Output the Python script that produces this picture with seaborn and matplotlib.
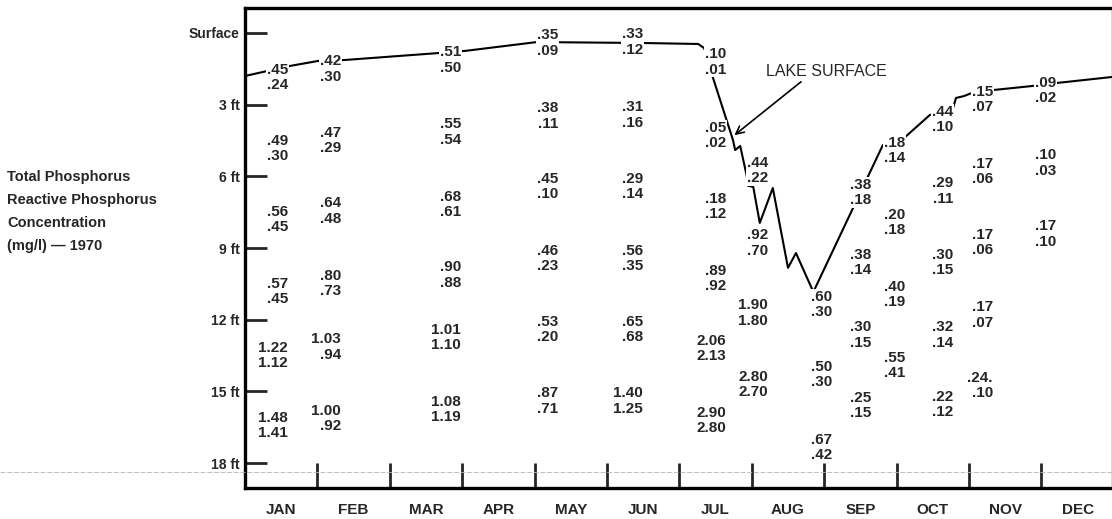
import matplotlib
matplotlib.use("Agg")
import matplotlib.pyplot as plt
from matplotlib.lines import Line2D
import seaborn as sns

sns.set_style("white")
plt.rcParams["font.family"] = ["Liberation Sans", "DejaVu Sans"]

# Month names along the bottom
months = ["JAN", "FEB", "MAR", "APR", "MAY", "JUN",
          "JUL", "AUG", "SEP", "OCT", "NOV", "DEC"]

# Depth axis (feet below surface)
depth_ticks = [0, 3, 6, 9, 12, 15, 18]
depth_labels = ["Surface", "3 ft", "6 ft", "9 ft", "12 ft", "15 ft", "18 ft"]

# Lake surface level through the year (month position, depth in ft)
surface_month = [0.00, 0.62, 1.01, 1.38, 2.67, 3.04, 4.03, 5.52, 6.26, 6.34,
                 6.38, 6.46, 6.74, 6.77, 6.84, 6.93, 6.95, 7.02, 7.11, 7.29,
                 7.50, 7.61, 7.85, 8.81, 9.12, 9.46, 9.78, 9.82, 9.93, 10.04,
                 10.36, 10.87, 11.22, 11.98]
surface_depth = [1.80, 1.38, 1.17, 1.13, 0.84, 0.75, 0.38, 0.42, 0.46, 0.63,
                 0.92, 1.84, 4.48, 4.90, 4.73, 5.98, 6.40, 6.44, 7.95, 6.49,
                 9.83, 9.21, 10.84, 4.69, 4.35, 3.43, 3.14, 2.72, 2.64, 2.51,
                 2.38, 2.22, 2.09, 1.84]

# Sampling dates (month position) and sample depths (ft)
sample_month = [0.594, 1.326, 2.983, 4.323, 5.497, 6.644, 7.224,
                8.108, 8.646, 9.116, 9.779, 10.331, 11.20]
sample_depth = [
    [1.86, 4.85, 7.82, 10.82, 13.49, 16.44],
    [1.51, 4.50, 7.45, 10.48, 13.14, 16.13],
    [1.13, 4.14, 7.18, 10.13, 12.76, 15.75],
    [0.42, 3.47, 6.44, 9.44, 12.41, 15.40],
    [0.38, 3.43, 6.44, 9.44, 12.41, 15.40],
    [1.21, 4.29, 7.26, 10.29, 13.22, 16.23],
    [5.77, 8.79, 11.72, 14.71],
    [11.38, 14.31, 17.36],
    [6.69, 9.62, 12.64, 15.59],
    [4.92, 7.93, 10.94, 13.91],
    [3.62, 6.61, 9.62, 12.64, 15.56],
    [2.78, 5.79, 8.77, 11.80, 14.75],
    [2.41, 5.44, 8.41],
]

# Total phosphorus (mg/l)
total_p = [
    [".45", ".49", ".56", ".57", "1.22", "1.48"],
    [".42", ".47", ".64", ".80", "1.03", "1.00"],
    [".51", ".55", ".68", ".90", "1.01", "1.08"],
    [".35", ".38", ".45", ".46", ".53", ".87"],
    [".33", ".31", ".29", ".56", ".65", "1.40"],
    [".10", ".05", ".18", ".89", "2.06", "2.90"],
    [".44", ".92", "1.90", "2.80"],
    [".60", ".50", ".67"],
    [".38", ".38", ".30", ".25"],
    [".18", ".20", ".40", ".55"],
    [".44", ".29", ".30", ".32", ".22"],
    [".15", ".17", ".17", ".17", ".24."],
    [".09", ".10", ".17"],
]

# Reactive phosphorus (mg/l)
reactive_p = [
    [".24", ".30", ".45", ".45", "1.12", "1.41"],
    [".30", ".29", ".48", ".73", ".94", ".92"],
    [".50", ".54", ".61", ".88", "1.10", "1.19"],
    [".09", ".11", ".10", ".23", ".20", ".71"],
    [".12", ".16", ".14", ".35", ".68", "1.25"],
    [".01", ".02", ".12", ".92", "2.13", "2.80"],
    [".22", ".70", "1.80", "2.70"],
    [".30", ".30", ".42"],
    [".18", ".14", ".15", ".15"],
    [".14", ".18", ".19", ".41"],
    [".10", ".11", ".15", ".14", ".12"],
    [".07", ".06", ".06", ".07", ".10"],
    [".02", ".03", ".10"],
]

fig = plt.figure(figsize=(11.12, 5.19), dpi=100)
ax = fig.add_axes([245 / 1112, 31 / 519, 1 - 245 / 1112, 480 / 519])

sns.lineplot(x=surface_month, y=surface_depth, sort=False, estimator=None,
             color="black", lw=1.5, ax=ax, zorder=2)

num_style = dict(ha="right", va="center", fontsize=11, fontweight="bold",
                 textcoords="offset points", zorder=3,
                 bbox=dict(facecolor="white", edgecolor="none", pad=0.6))
for m, depths, tots, reacts in zip(sample_month, sample_depth, total_p, reactive_p):
    for d, t, r in zip(depths, tots, reacts):
        ax.annotate(t, (m, d), xytext=(0, 5.5), **num_style)
        ax.annotate(r, (m, d), xytext=(0, -5.5), **num_style)

# Label with arrow pointing at the surface line
ax.annotate("", xy=(6.73, 4.35), xytext=(7.71, 1.97),
            arrowprops=dict(arrowstyle="->", color="black", lw=1.2,
                            mutation_scale=14), zorder=4)
ax.text(7.20, 1.63, "LAKE SURFACE", fontsize=11.5, ha="left", va="center")

ax.set_xlim(0, 11.975)
ax.set_ylim(19.046, -1.046)

ax.set_yticks(depth_ticks)
ax.set_yticklabels(depth_labels, fontsize=10, fontweight="bold")
ax.tick_params(axis="y", direction="in", length=16, width=2, pad=4, left=True)

ax.set_xticks(range(1, 12))
ax.set_xticklabels([])
ax.set_xticks([i + 0.5 for i in range(12)], minor=True)
ax.set_xticklabels(months, minor=True, fontsize=11, fontweight="bold")
ax.tick_params(axis="x", which="major", direction="in", length=18, width=2,
               bottom=True)
ax.tick_params(axis="x", which="minor", length=0, pad=10.5)
ax.set_xlabel("")
ax.set_ylabel("")

for side in ["left", "top", "bottom"]:
    ax.spines[side].set_linewidth(2.4)
    ax.spines[side].set_color("black")
ax.spines["right"].set_linewidth(1.0)
ax.spines["right"].set_color("#444444")

# Faint ruled line across the lower page
fig.add_artist(Line2D([0, 1], [0.0906, 0.0906], color="#b5b5b5", lw=0.6,
                      ls=(0, (6, 2))))

# Quantity description at the left
for i, line in enumerate(["Total Phosphorus", "Reactive Phosphorus",
                          "Concentration", "(mg/l) \u2014 1970"]):
    fig.text(7 / 1112, 1 - (177 + 23 * i) / 519, line, fontsize=10.5,
             fontweight="bold", ha="left", va="center")

fig.savefig("out.png", dpi=100)
